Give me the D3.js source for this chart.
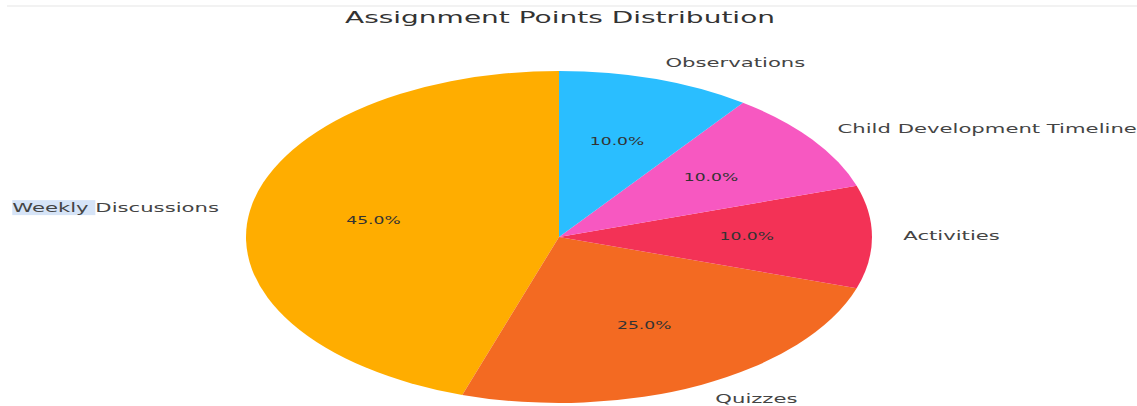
<!DOCTYPE html>
<html>
<head>
<meta charset="utf-8">
<script src="https://cdn.jsdelivr.net/npm/d3@7"></script>
<style>
  html, body { margin: 0; padding: 0; background: #fff; }
  svg { display: block; }
  text { font-family: "DejaVu Sans", sans-serif; }
</style>
</head>
<body>
<svg id="chart" width="1137" height="406"></svg>
<script>
const categories = ["Weekly Discussions", "Quizzes", "Activities", "Child Development Timeline", "Observations"];
const values = [45, 25, 10, 10, 10];
const colors = ["#FFAD00", "#F36A22", "#F33256", "#F758C1", "#2ABEFF"];
const title = "Assignment Points Distribution";

const W = 1137, H = 406;
const cx = 559, cy = 237;
const rx = 313, ry = 166;
const R = ry;
const sx = rx / R;          // horizontal stretch of the figure
const textSX = 1.75;        // horizontal stretch of texts

const svg = d3.select("#chart");

// faint top rule
svg.append("line").attr("x1", 7).attr("x2", W).attr("y1", 6).attr("y2", 6)
  .attr("stroke", "#eeeeee").attr("stroke-width", 1.5);

// title
svg.append("text")
  .attr("transform", `translate(${560},${17.5}) scale(${textSX},1)`)
  .attr("text-anchor", "middle").attr("dominant-baseline", "central")
  .attr("font-size", 16).attr("fill", "#333")
  .text(title);

const data = categories.map((c, i) => ({ label: c, value: values[i], color: colors[i] }));
const pie = d3.pie().value(d => d.value).sort(null).startAngle(0).endAngle(-2 * Math.PI);
const arcs = pie(data);
const arc = d3.arc().innerRadius(0).outerRadius(R);

const g = svg.append("g").attr("transform", `translate(${cx},${cy}) scale(${sx},1)`);
g.selectAll("path").data(arcs).join("path")
  .attr("d", arc)
  .attr("fill", d => d.data.color);

const total = d3.sum(values);
const xs = d3.scaleLinear().domain([-1, 1]).range([cx - rx, cx + rx]);
const ys = d3.scaleLinear().domain([-1, 1]).range([cy + ry, cy - ry]);

arcs.forEach(a => {
  const mid = (a.startAngle + a.endAngle) / 2;
  const ux = Math.sin(mid), uy = Math.cos(mid);
  // percentage
  svg.append("text")
    .attr("transform", `translate(${xs(0.6 * ux)},${ys(0.6 * uy) - 0.5}) scale(${textSX},1)`)
    .attr("text-anchor", "middle").attr("dominant-baseline", "central")
    .attr("font-size", 9.8).attr("fill", "#333")
    .text((100 * a.data.value / total).toFixed(1) + "%");
  // label
  const lx = xs(1.1 * ux), ly = ys(1.1 * uy) - 0.8;
  const lg = svg.append("g").attr("transform", `translate(${lx},${ly}) scale(${textSX},1)`);
  const t = lg.append("text")
    .attr("text-anchor", ux >= 0 ? "start" : "end")
    .attr("dominant-baseline", "central")
    .attr("font-size", 12.1).attr("fill", "#444")
    .text(a.data.label);
  if (a.data.label === "Weekly Discussions") {
    const node = t.node();
    const full = node.getComputedTextLength();
    const wWeekly = node.getSubStringLength(0, 7);
    lg.insert("rect", "text")
      .attr("x", -full).attr("y", -7.5)
      .attr("width", wWeekly).attr("height", 15)
      .attr("fill", "#d6e4f7");
  }
});
</script>
</body>
</html>
